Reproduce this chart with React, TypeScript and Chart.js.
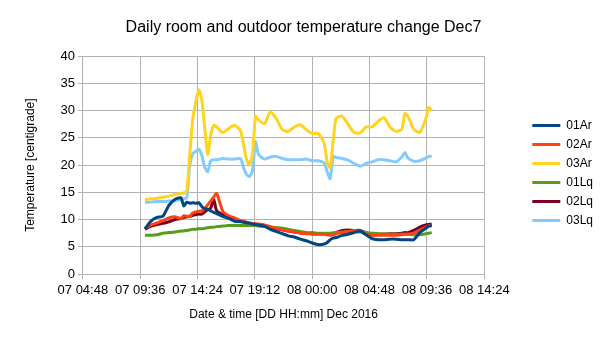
import React, { useEffect, useRef } from 'react';
import { Chart, registerables } from 'chart.js';

Chart.register(...registerables);

// Sample times, "DD HH:mm" in December 2016
const times = [
  '07 10:00', '07 10:30', '07 11:00', '07 11:30', '07 12:00', '07 12:30', '07 13:00', '07 13:15',
  '07 13:30', '07 13:45', '07 14:00', '07 14:15', '07 14:30', '07 14:45', '07 15:00', '07 15:15',
  '07 15:30', '07 15:45', '07 16:00', '07 16:30', '07 17:00', '07 17:30', '07 18:00', '07 18:15',
  '07 18:30', '07 18:45', '07 19:00', '07 19:15', '07 19:30', '07 20:00', '07 20:30', '07 21:00',
  '07 21:30', '07 22:00', '07 22:30', '07 23:00', '07 23:30', '08 00:00', '08 00:30', '08 01:00',
  '08 01:15', '08 01:30', '08 01:45', '08 02:00', '08 02:30', '08 03:00', '08 03:30', '08 04:00',
  '08 04:30', '08 05:00', '08 05:30', '08 06:00', '08 06:30', '08 07:00', '08 07:30', '08 07:45',
  '08 08:00', '08 08:30', '08 09:00', '08 09:30', '08 09:45', '08 10:00',
];

const ar01 = [
  8.3, 9.7, 10.4, 10.6, 12.6, 13.7, 14.0, 12.5, 13.2, 13.0, 13.1, 13.0, 13.1, 12.4, 12.0, 11.9,
  11.6, 11.3, 11.1, 10.6, 10.2, 9.7, 9.6, 9.5, 9.4, 9.3, 9.2, 9.1, 9.0, 8.8, 8.2, 7.8,
  7.4, 7.0, 6.8, 6.4, 6.1, 5.7, 5.4, 5.5, 5.8, 6.3, 6.6, 6.7, 7.1, 7.3, 7.6, 7.9,
  7.2, 6.5, 6.3, 6.3, 6.4, 6.4, 6.3, 6.3, 6.3, 6.3, 7.6, 8.4, 8.8, 8.9,
];

const ar02 = [
  8.4, 9.0, 9.4, 9.8, 10.3, 10.5, 10.2, 10.7, 10.6, 10.6, 11.2, 11.4, 11.5, 11.6, 12.0, 12.7,
  13.4, 14.1, 14.8, 11.6, 10.7, 10.3, 9.8, 9.7, 9.5, 9.4, 9.3, 9.25, 9.2, 9.0, 8.7, 8.4,
  8.1, 7.9, 7.7, 7.5, 7.4, 7.3, 7.3, 7.3, 7.2, 7.1, 7.2, 7.4, 7.6, 7.8, 8.0, 7.9,
  7.3, 7.1, 7.1, 7.1, 7.1, 7.1, 7.2, 7.3, 7.3, 7.5, 8.0, 8.6, 8.9, 9.0,
];

const ar03 = [
  13.7, 13.8, 13.9, 14.1, 14.3, 14.6, 14.8, 14.9, 15.2, 22.0, 28.5, 31.5, 33.8, 32.0, 26.8, 22.0,
  25.5, 27.3, 27.0, 26.0, 26.7, 27.3, 26.3, 23.8, 21.0, 20.0, 22.0, 29.0, 28.3, 27.6, 29.8, 28.5,
  26.5, 26.2, 27.0, 27.4, 26.5, 25.8, 25.8, 24.0, 20.5, 19.5, 24.5, 28.6, 29.0, 27.5, 26.0, 25.9,
  27.0, 27.0, 28.0, 28.7, 27.0, 26.2, 26.6, 29.5, 29.0, 26.6, 26.0, 28.5, 30.6, 30.0,
];

const lq01 = [
  7.1, 7.1, 7.2, 7.5, 7.6, 7.7, 7.9, 7.9, 8.0, 8.1, 8.2, 8.2, 8.3, 8.3, 8.4, 8.5,
  8.6, 8.6, 8.7, 8.8, 8.9, 8.9, 8.9, 8.9, 8.9, 8.9, 8.9, 8.9, 8.8, 8.7, 8.6, 8.5,
  8.4, 8.2, 8.0, 7.8, 7.6, 7.6, 7.5, 7.5, 7.5, 7.5, 7.5, 7.6, 7.7, 7.8, 7.8, 7.7,
  7.6, 7.5, 7.4, 7.4, 7.3, 7.3, 7.3, 7.3, 7.3, 7.2, 7.2, 7.4, 7.5, 7.6,
];

const lq02 = [
  8.2, 8.8, 9.1, 9.3, 9.6, 10.0, 10.2, 10.4, 10.5, 10.6, 10.8, 10.9, 11.0, 11.0, 11.4, 11.8,
  12.1, 13.7, 11.6, 10.9, 10.4, 10.0, 9.7, 9.6, 9.4, 9.3, 9.2, 9.1, 9.1, 8.9, 8.6, 8.3,
  8.1, 7.9, 7.7, 7.6, 7.5, 7.4, 7.4, 7.4, 7.4, 7.4, 7.5, 7.6, 8.0, 8.1, 8.0, 8.0,
  7.6, 7.3, 7.3, 7.3, 7.4, 7.4, 7.5, 7.6, 7.6, 8.0, 8.6, 9.0, 9.1, 9.2,
];

const lq03 = [
  13.2, 13.2, 13.3, 13.3, 13.4, 13.5, 13.7, 13.8, 14.0, 20.0, 22.1, 22.5, 22.9, 21.8, 19.6, 18.8,
  20.8, 21.0, 21.0, 21.2, 21.1, 21.1, 21.2, 19.5, 18.3, 17.9, 19.0, 24.3, 22.0, 21.1, 21.5, 21.6,
  21.2, 21.0, 21.0, 21.0, 21.1, 20.8, 20.8, 20.4, 18.8, 17.5, 21.6, 21.4, 21.2, 20.9, 20.3, 19.8,
  20.3, 20.6, 21.0, 21.0, 20.8, 20.6, 21.5, 22.3, 21.3, 20.7, 20.8, 21.3, 21.6, 21.6,
];

const seriesNames = ['01Ar', '02Ar', '03Ar', '01Lq', '02Lq', '03Lq'];
const seriesValues = [ar01, ar02, ar03, lq01, lq02, lq03];
const seriesColors = ['#004586', '#ff420e', '#ffd320', '#579d1c', '#7e0021', '#83caff'];

const chartTitle = 'Daily room and outdoor temperature change Dec7';
const xTitle = 'Date & time [DD HH:mm] Dec 2016';
const yTitle = 'Temperature [centigrade]';
const xMin = '07 04:48';
const xMax = '08 14:24';
const xStepMinutes = 288;
const yMin = 0;
const yMax = 40;
const yStep = 5;

const toMinutes = (s: string) => {
  const [d, hm] = s.split(' ');
  const [h, m] = hm.split(':').map(Number);
  return (Number(d) - 7) * 1440 + h * 60 + m;
};
const pad = (n: number) => String(n).padStart(2, '0');
const fmt = (v: number) => {
  const day = 7 + Math.floor(v / 1440);
  const rest = Math.round(v - (day - 7) * 1440);
  return `${pad(day)} ${pad(Math.floor(rest / 60))}:${pad(rest % 60)}`;
};

const FONT = "'Liberation Sans', Arial, sans-serif";

// Gap between the plot and the legend, and a vertical offset for the legend
const LEGEND_GAP = 41;
const LEGEND_DY = 12;

const legendPlacement = {
  id: 'legendPlacement',
  beforeLayout(chart: any) {
    const lg = chart.legend;
    if (lg && !lg.__patched) {
      const orig = lg.fit;
      lg.fit = function () {
        orig.call(this);
        this.width += LEGEND_GAP;
      };
      lg.__patched = true;
    }
  },
  afterLayout(chart: any) {
    const lg = chart.legend;
    if (lg) {
      lg.left += LEGEND_GAP;
      lg.top += LEGEND_DY;
      lg.bottom += LEGEND_DY;
    }
  },
};

export default function App() {
  const ref = useRef<HTMLCanvasElement>(null);
  useEffect(() => {
    document.body.style.margin = '0';
    const canvas = ref.current!;
    const chart = new Chart(canvas, {
      type: 'line',
      data: {
        datasets: seriesNames.map((name, i) => ({
          label: name,
          data: times.map((t, j) => ({ x: toMinutes(t), y: seriesValues[i][j] })),
          borderColor: seriesColors[i],
          backgroundColor: seriesColors[i],
          borderWidth: 3,
          pointRadius: 0,
          tension: 0.2,
          fill: false,
        })),
      },
      plugins: [legendPlacement],
      options: {
        responsive: false,
        animation: false,
        layout: { padding: { left: 4, right: 2, top: 0, bottom: 18 } },
        plugins: {
          title: {
            display: true,
            text: chartTitle,
            color: '#000',
            font: { family: FONT, size: 16, weight: 'normal' },
            padding: { top: 18, bottom: 19 },
          },
          legend: {
            position: 'right',
            labels: {
              usePointStyle: true,
              pointStyle: 'line',
              pointStyleWidth: 28,
              color: '#000',
              font: { family: FONT, size: 12 },
              padding: 7,
            },
          },
          tooltip: { enabled: false },
        },
        scales: {
          x: {
            type: 'linear',
            min: toMinutes(xMin),
            max: toMinutes(xMax),
            ticks: {
              stepSize: xStepMinutes,
              callback: (v: any) => fmt(Number(v)),
              color: '#000',
              font: { family: FONT, size: 13 },
              maxRotation: 0,
              autoSkip: false,
              padding: 4,
            },
            grid: { color: '#b3b3b3', tickLength: 5 },
            border: { color: '#b3b3b3' },
            title: {
              display: true,
              text: xTitle,
              color: '#000',
              font: { family: FONT, size: 12 },
              padding: { top: 5, bottom: 0 },
            },
          },
          y: {
            min: yMin,
            max: yMax,
            ticks: {
              stepSize: yStep,
              color: '#000',
              font: { family: FONT, size: 13 },
              padding: 3,
            },
            grid: { color: '#b3b3b3', tickLength: 5 },
            border: { color: '#b3b3b3' },
            title: {
              display: true,
              text: yTitle,
              color: '#000',
              font: { family: FONT, size: 12 },
              padding: { top: 19, bottom: 20 },
            },
          },
        },
      },
    });
    return () => chart.destroy();
  }, []);
  return (
    <div style={{ position: 'absolute', left: 0, top: 0, width: 605, height: 340 }}>
      <canvas ref={ref} width={605} height={340} />
    </div>
  );
}
